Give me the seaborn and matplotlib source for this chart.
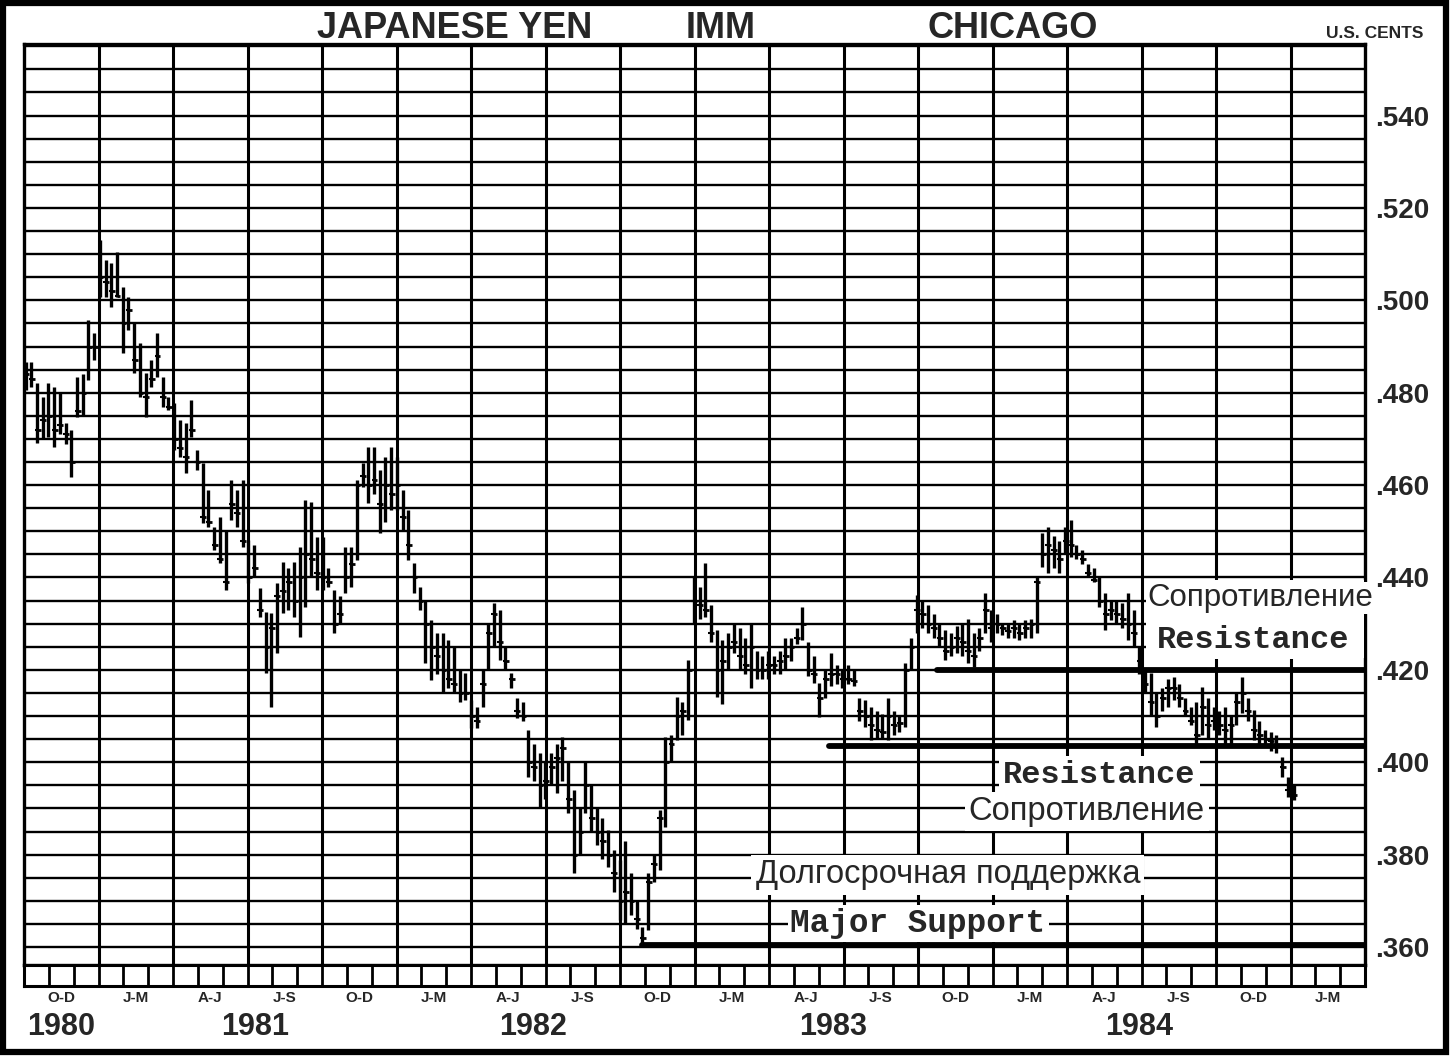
import numpy as np
import pandas as pd
import matplotlib
matplotlib.use("Agg")
import matplotlib.pyplot as plt
import matplotlib.transforms as mtransforms
from matplotlib.patches import Rectangle
import seaborn as sns

# ---------------- data (weekly bars, U.S. cents per yen) ----------------
highs = [
    .4866, .4866, .4821, .4790, .4821, .4813, .4800, .4735, .4719, .4834, .4840, .4958, .4929,
    .5131, .5087, .5081, .5105, .5029, .5007, .4951, .4908, .4843, .4871, .4929, .4834, .4790,
    .4778, .4741, .4735, .4784, .4676, .4648, .4590, .4510, .4531, .4503, .4611, .4590, .4611,
    .4481, .4470, .4377, .4326, .4323, .4388, .4434, .4420, .4434, .4466, .4568, .4564, .4488,
    .4488, .4420, .4373, .4360, .4466, .4466, .4611, .4648, .4683, .4683, .4633, .4660, .4683,
    .4661, .4590, .4546, .4432, .4380, .4352, .4308, .4280, .4280, .4265, .4250, .4200, .4193,
    .4135, .4120, .4200, .4300, .4345, .4330, .4250, .4193, .4140, .4130, .4070, .4040, .4020,
    .4000, .4020, .4040, .4055, .4000, .3940, .3900, .4001, .3950, .3900, .3880, .3854, .3810,
    .3789, .3830, .3760, .3700, .3644, .3761, .3800, .3897, .4055, .4060, .4142, .4130, .4222,
    .4401, .4380, .4432, .4340, .4287, .4265, .4280, .4302, .4290, .4270, .4302, .4240, .4230,
    .4240, .4230, .4240, .4270, .4270, .4290, .4336, .4260, .4230, .4172, .4200, .4237, .4210,
    .4200, .4210, .4200, .4140, .4135, .4120, .4110, .4105, .4140, .4110, .4100, .4215, .4270,
    .4362, .4350, .4340, .4320, .4300, .4287, .4280, .4295, .4300, .4310, .4280, .4290, .4366,
    .4330, .4320, .4300, .4300, .4308, .4300, .4308, .4310, .4401, .4497, .4510, .4490, .4480,
    .4510, .4525, .4470, .4460, .4430, .4420, .4401, .4366, .4352, .4350, .4345, .4366, .4330,
    .4250, .4200, .4193, .4150, .4160, .4180, .4185, .4170, .4140, .4120, .4130, .4163, .4140,
    .4120, .4110, .4120, .4100, .4150, .4185, .4140, .4113, .4090, .4070, .4065, .4060, .4012,
    .3968, .3950,
]
lows = [
    .4806, .4813, .4691, .4700, .4704, .4683, .4710, .4690, .4618, .4748, .4750, .4828, .4871,
    .5007, .5007, .4986, .5007, .4886, .4936, .4843, .4791, .4748, .4813, .4834, .4769, .4763,
    .4676, .4661, .4626, .4704, .4633, .4518, .4510, .4460, .4432, .4373, .4525, .4510, .4466,
    .4388, .4400, .4315, .4193, .4120, .4237, .4323, .4330, .4315, .4271, .4336, .4401, .4373,
    .4373, .4380, .4280, .4300, .4366, .4380, .4438, .4596, .4561, .4580, .4497, .4520, .4546,
    .4546, .4500, .4438, .4366, .4330, .4215, .4178, .4190, .4150, .4160, .4150, .4130, .4135,
    .4074, .4074, .4120, .4200, .4250, .4222, .4200, .4160, .4096, .4090, .3968, .3960, .3903,
    .3920, .3950, .3934, .3960, .3890, .3760, .3800, .3890, .3850, .3820, .3790, .3774, .3720,
    .3659, .3650, .3670, .3640, .3609, .3637, .3740, .3767, .3860, .4000, .4048, .4060, .4092,
    .4302, .4310, .4315, .4260, .4142, .4127, .4200, .4237, .4200, .4190, .4160, .4180, .4180,
    .4180, .4190, .4190, .4200, .4220, .4255, .4265, .4187, .4172, .4098, .4140, .4165, .4170,
    .4160, .4170, .4165, .4090, .4077, .4048, .4050, .4050, .4048, .4060, .4065, .4077, .4200,
    .4280, .4290, .4280, .4270, .4250, .4222, .4230, .4237, .4230, .4215, .4207, .4240, .4280,
    .4260, .4280, .4275, .4270, .4270, .4265, .4270, .4270, .4280, .4423, .4410, .4420, .4410,
    .4453, .4445, .4440, .4430, .4400, .4390, .4336, .4286, .4308, .4300, .4290, .4265, .4250,
    .4190, .4150, .4100, .4077, .4110, .4120, .4135, .4120, .4100, .4080, .4033, .4060, .4050,
    .4070, .4060, .4033, .4040, .4080, .4107, .4090, .4048, .4040, .4033, .4025, .4020, .3968,
    .3925, .3919,
]
closes = [
    .4840, .4830, .4720, .4740, .4750, .4720, .4730, .4710, .4650, .4760, .4800, .4900, .4900,
    .5050, .5040, .5020, .5010, .4950, .4980, .4870, .4800, .4790, .4830, .4880, .4790, .4770,
    .4700, .4680, .4660, .4720, .4650, .4530, .4520, .4470, .4440, .4390, .4560, .4540, .4480,
    .4400, .4420, .4330, .4250, .4290, .4360, .4370, .4390, .4350, .4400, .4450, .4440, .4410,
    .4400, .4390, .4300, .4320, .4400, .4430, .4600, .4620, .4600, .4610, .4560, .4600, .4580,
    .4600, .4530, .4470, .4400, .4350, .4300, .4250, .4230, .4200, .4180, .4170, .4150, .4150,
    .4100, .4090, .4170, .4280, .4320, .4260, .4220, .4180, .4110, .4100, .4000, .3990, .3950,
    .3960, .3990, .4010, .4030, .3920, .3800, .3850, .3950, .3880, .3850, .3830, .3800, .3760,
    .3700, .3720, .3700, .3660, .3620, .3740, .3780, .3880, .4000, .4040, .4100, .4110, .4200,
    .4350, .4340, .4330, .4280, .4200, .4220, .4250, .4260, .4230, .4210, .4250, .4200, .4200,
    .4210, .4210, .4220, .4230, .4250, .4270, .4300, .4200, .4190, .4140, .4180, .4190, .4190,
    .4180, .4180, .4175, .4110, .4100, .4080, .4070, .4065, .4100, .4080, .4085, .4200, .4250,
    .4330, .4320, .4300, .4290, .4270, .4240, .4250, .4270, .4260, .4240, .4230, .4270, .4330,
    .4290, .4300, .4290, .4285, .4290, .4280, .4290, .4300, .4390, .4450, .4470, .4460, .4440,
    .4480, .4470, .4450, .4440, .4410, .4395, .4350, .4320, .4330, .4320, .4310, .4300, .4280,
    .4220, .4170, .4130, .4100, .4140, .4160, .4160, .4140, .4110, .4090, .4060, .4120, .4080,
    .4090, .4080, .4070, .4080, .4130, .4150, .4110, .4070, .4060, .4050, .4045, .4035, .3990,
    .3940, .3930,
]
first_week = "1980-10-03"

# trend / support levels (price, start date)
level_prices = [0.4200, 0.4035, 0.3605]
level_starts = ["1983-10-25", "1983-06-15", "1982-10-28"]

quarter_labels = ["O-D", "J-M", "A-J", "J-S"] * 4 + ["O-D", "J-M"]
year_labels = ["1980", "1981", "1982", "1983", "1984"]
year_positions = [1.5, 9.3, 20.5, 32.6, 44.9]
y_tick_values = [0.360, 0.380, 0.400, 0.420, 0.440, 0.460, 0.480, 0.500, 0.520, 0.540]

# ---------------- build ----------------
origin = pd.Timestamp("1980-10-01")
def to_month(d):
    return (pd.to_datetime(d) - origin).days / 30.4375

dates = pd.date_range(first_week, periods=len(highs), freq="7D")
df = pd.DataFrame({"x": (dates - origin).days / 30.4375,
                   "high": highs, "low": lows, "close": closes})

sns.set_theme(style="white")
plt.rcParams["font.family"] = ["Liberation Sans", "DejaVu Sans"]
SANS = ["Liberation Sans", "DejaVu Sans"]
MONO = ["Liberation Mono", "DejaVu Sans Mono"]

W, H = 1452, 1060
fig = plt.figure(figsize=(W / 100, H / 100), dpi=100, facecolor="white")
def fx(px): return px / W
def fy(py): return 1 - py / H

L, R, T, B = 24, 1365, 44, 965
ax = fig.add_axes([fx(L), fy(B), fx(R) - fx(L), fy(T) - fy(B)])
strip = fig.add_axes([fx(L), fy(986), fx(R) - fx(L), fy(B) - fy(986)], sharex=ax)

ax.set_xlim(0, 54)
ax.set_ylim(0.3561, 0.5555)

# grid
for v in np.arange(0.360, 0.5551, 0.005):
    ax.axhline(v, color="black", lw=1.7, zorder=1)
for q in range(3, 54, 3):
    ax.axvline(q, color="black", lw=2.2, zorder=1)

# weekly bars
ax.vlines(df["x"], df["low"], df["high"], color="black", lw=2.4, zorder=3)
ax.hlines(df["close"], df["x"], df["x"] + 0.14, color="black", lw=2.0, zorder=3)
ax.hlines(df["close"], df["x"] - 0.10, df["x"], color="black", lw=1.5, zorder=3)

# support / resistance levels (drawn above the note boxes)
for p, s in zip(level_prices, level_starts):
    sns.lineplot(x=[to_month(s), 54], y=[p, p], ax=ax, color="black", lw=4.2, zorder=7)

# axis formatting
ax.set_xticks([])
ax.yaxis.tick_right()
ax.set_yticks(y_tick_values)
ax.set_yticklabels(["." + f"{v:.3f}".split(".")[1] for v in y_tick_values])
ax.tick_params(axis="y", length=0, pad=7, labelsize=20)
for lbl in ax.get_yticklabels():
    lbl.set_fontfamily(SANS)
    lbl.set_fontweight("bold")
for sp in ax.spines.values():
    sp.set_color("black")
    sp.set_linewidth(2.4)
    sp.set_visible(True)

# month strip
strip.set_ylim(0, 1)
strip.vlines(np.arange(0, 55), 0, 1, color="black", lw=2.0)
strip.set_yticks([])
strip.set_xticks([])
for sp in strip.spines.values():
    sp.set_color("black")
    sp.set_linewidth(2.2)
    sp.set_visible(True)
blend = mtransforms.blended_transform_factory(strip.transData, fig.transFigure)
for i, lab in enumerate(quarter_labels):
    strip.text(1.5 + 3 * i, fy(998), lab, transform=blend, ha="center", va="center",
               fontsize=11, fontweight="bold", family=SANS)
for lab, xpos in zip(year_labels, year_positions):
    strip.text(xpos, fy(1027), lab, transform=blend, ha="center", va="center",
               fontsize=22, fontweight="bold", family=SANS)

# white area behind the upper resistance note
ax.add_patch(Rectangle((45.2, 0.4226), 53.94 - 45.2, 0.4394 - 0.4226,
                       facecolor="white", edgecolor="none", zorder=5))

# annotations
notes = [
    ("Сопротивление", 49.8, 0.4356, SANS, "normal", 22.5, 1),
    ("Resistance", 49.5, 0.4265, MONO, "bold", 23, 3),
    ("Resistance", 43.3, 0.3973, MONO, "bold", 23, 3),
    ("Сопротивление", 42.8, 0.3893, SANS, "normal", 23.5, 3),
    ("Долгосрочная поддержка", 37.2, 0.3756, SANS, "normal", 23.5, 3),
    ("Major Support", 36.0, 0.3650, MONO, "bold", 23.5, 2),
]
for s, xx, yy, fam, wt, fs, pd_ in notes:
    ax.text(xx, yy, s, ha="center", va="center", fontsize=fs, family=fam,
            fontweight=wt, zorder=6, clip_on=False,
            bbox=dict(facecolor="white", edgecolor="none", pad=pd_))

# title and units
for s, xc in [("JAPANESE YEN", 455), ("IMM", 721), ("CHICAGO", 1013)]:
    fig.text(fx(xc), fy(29), s, ha="center", va="center", fontsize=26,
             fontweight="bold", family=SANS)
fig.text(fx(1375), fy(33), "U.S. CENTS", ha="center", va="center", fontsize=12.5,
         fontweight="bold", family=SANS)

# outer frame
fig.add_artist(Rectangle((fx(3), fy(1052)), fx(1446) - fx(3), fy(3) - fy(1052),
                         transform=fig.transFigure, fill=False, lw=4.5,
                         edgecolor="black"))

fig.savefig("out.png", dpi=100, facecolor="white")
